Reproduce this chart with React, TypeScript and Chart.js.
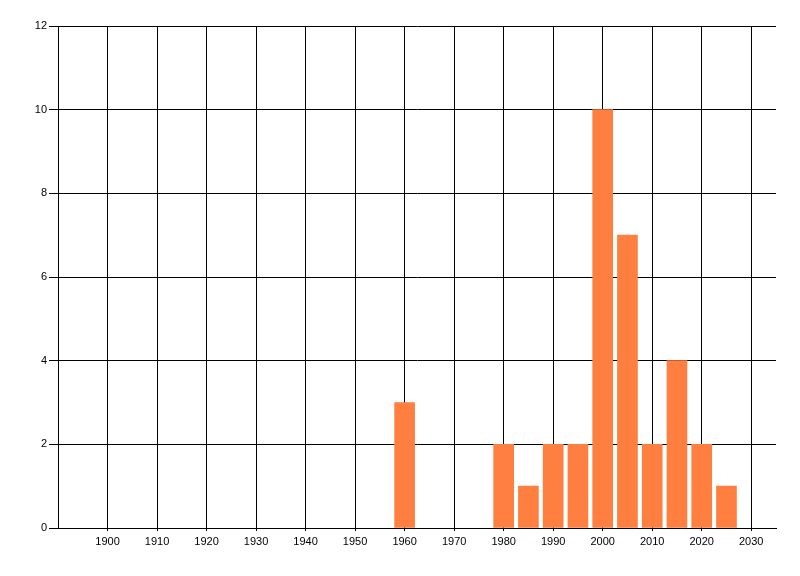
import { useEffect, useRef } from 'react'
import { Chart, registerables } from 'chart.js'

Chart.register(...registerables)

// Bar positions (year) and counts
const years = [1960, 1980, 1985, 1990, 1995, 2000, 2005, 2010, 2015, 2020, 2025]
const counts = [3, 2, 1, 2, 2, 10, 7, 2, 4, 2, 1]

// Axis ticks
const xTicks = [1900, 1910, 1920, 1930, 1940, 1950, 1960, 1970, 1980, 1990, 2000, 2010, 2020, 2030]
const yTicks = [0, 2, 4, 6, 8, 10, 12]

export default function App() {
  const chartRef = useRef<HTMLCanvasElement>(null)
  const chartInstance = useRef<Chart | null>(null)

  useEffect(() => {
    document.body.style.margin = '0'
    if (!chartRef.current) return
    if (chartInstance.current) chartInstance.current.destroy()
    const ctx = chartRef.current.getContext('2d')
    if (!ctx) return

    const font = { family: "'Liberation Sans', Arial, sans-serif", size: 11 }

    chartInstance.current = new Chart(ctx, {
      type: 'bar',
      data: {
        datasets: [
          {
            data: years.map((y, i) => ({ x: y, y: counts[i] })),
            backgroundColor: 'rgb(255,127,64)',
            borderWidth: 0,
            barThickness: 20,
          },
        ],
      },
      options: {
        animation: false,
        responsive: false,
        plugins: {
          legend: { display: false },
          tooltip: { enabled: false },
        },
        layout: { padding: { left: 0, top: 26, right: 24, bottom: 0 } },
        scales: {
          x: {
            type: 'linear',
            min: 1890,
            max: 2035,
            offset: false,
            afterBuildTicks: (scale: any) => {
              scale.ticks = xTicks.map((v) => ({ value: v }))
            },
            afterFit: (scale: any) => {
              scale.height = 48
            },
            grid: {
              offset: false,
              color: '#000',
              lineWidth: 1,
              drawTicks: true,
              tickLength: 3,
              tickColor: '#000',
            },
            border: { display: true, color: '#000' },
            ticks: {
              color: '#000',
              font,
              padding: 4,
              maxRotation: 0,
              autoSkip: false,
              callback: (v: any) => String(v),
            },
          },
          y: {
            type: 'linear',
            min: 0,
            max: 12,
            afterBuildTicks: (scale: any) => {
              scale.ticks = yTicks.map((v) => ({ value: v }))
            },
            afterFit: (scale: any) => {
              scale.width = 58
            },
            grid: {
              color: '#000',
              lineWidth: 1,
              drawTicks: true,
              tickLength: 9,
              tickColor: '#000',
            },
            border: { display: true, color: '#000' },
            ticks: {
              color: '#000',
              font,
              padding: 2,
              callback: (v: any) => String(v),
            },
          },
        },
      },
    })

    return () => {
      if (chartInstance.current) {
        chartInstance.current.destroy()
        chartInstance.current = null
      }
    }
  }, [])

  return (
    <div style={{ width: 800, height: 576, background: '#fff' }}>
      <canvas ref={chartRef} width={800} height={576} />
    </div>
  )
}
